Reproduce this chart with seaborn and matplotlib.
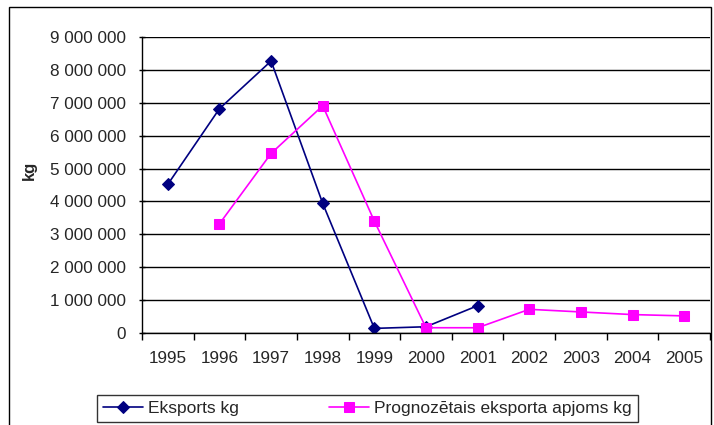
import numpy as np
import pandas as pd
import matplotlib
matplotlib.use("Agg")
import matplotlib.pyplot as plt
import seaborn as sns
from matplotlib.ticker import FuncFormatter, FixedLocator

# Data
years = ['1995', '1996', '1997', '1998', '1999', '2000', '2001', '2002', '2003', '2004', '2005']
eksports = [4520000, 6820000, 8270000, 3940000, 140000, 190000, 830000,
            np.nan, np.nan, np.nan, np.nan]
prognoze = [np.nan, 3320000, 5460000, 6910000, 3400000, 160000, 160000,
            720000, 640000, 560000, 520000]

sns.set_style("white")
plt.rcParams['font.family'] = ['Liberation Sans', 'DejaVu Sans']

df = pd.DataFrame({'pos': np.arange(len(years)), 'eksports': eksports, 'prognoze': prognoze})

fig = plt.figure(figsize=(7.14, 4.25), dpi=100)
ax = fig.add_axes([142 / 714, 92 / 425, 568 / 714, 296 / 425])

# outer chart frame
fig.add_artist(plt.Rectangle((9 / 714, -0.05), 702 / 714, 1.05 - 7 / 425, transform=fig.transFigure,
                             fill=False, edgecolor='black', linewidth=1))

sns.lineplot(data=df, x='pos', y='eksports', ax=ax, color='#000080', marker='D', markersize=6,
             markeredgecolor='#000080', linewidth=1.2, label='Eksports kg', legend=False)
sns.lineplot(data=df, x='pos', y='prognoze', ax=ax, color='#FF00FF', marker='s', markersize=7,
             markeredgecolor='#FF00FF', linewidth=1.2, label='Prognozētais eksporta apjoms kg', legend=False)

ax.set_xlim(-0.5, len(years) - 0.5)
ax.set_ylim(0, 9000000)
ax.set_yticks(np.arange(0, 9000001, 1000000))
ax.yaxis.set_major_formatter(FuncFormatter(lambda v, p: f"{int(v):,}".replace(',', ' ')))
ax.set_xticks(np.arange(len(years)))
ax.set_xticklabels(years)
ax.xaxis.set_minor_locator(FixedLocator(np.arange(-0.5, len(years), 1)))
ax.tick_params(axis='x', which='major', length=0, pad=13, labelsize=12.3)
ax.tick_params(axis='x', which='minor', length=5, width=1, direction='out', bottom=True, color='black')
ax.tick_params(axis='y', length=5, width=1, direction='inout', left=True, labelsize=12.3, pad=9, color='black')

ax.grid(axis='y', color='black', linewidth=1)
ax.set_axisbelow(True)
for s in ['top', 'right']:
    ax.spines[s].set_visible(False)
for s in ['left', 'bottom']:
    ax.spines[s].set_color('black')
    ax.spines[s].set_linewidth(1)

ax.set_xlabel('')
ax.set_ylabel('kg', fontsize=12, fontweight='bold')
ax.yaxis.set_label_coords(-0.185, 0.55)

handles, labels = ax.get_legend_handles_labels()
leg = fig.legend(handles, labels, loc='lower left', bbox_to_anchor=(97 / 714, 3 / 425, 541 / 714, 33 / 425),
                 bbox_transform=fig.transFigure, ncol=2, mode='expand', fontsize=12.5,
                 frameon=True, fancybox=False, edgecolor='black', handlelength=2.3, handletextpad=0.3,
                 borderaxespad=0, borderpad=0.35)
leg.get_frame().set_linewidth(1)

fig.savefig('out.png', dpi=100)
